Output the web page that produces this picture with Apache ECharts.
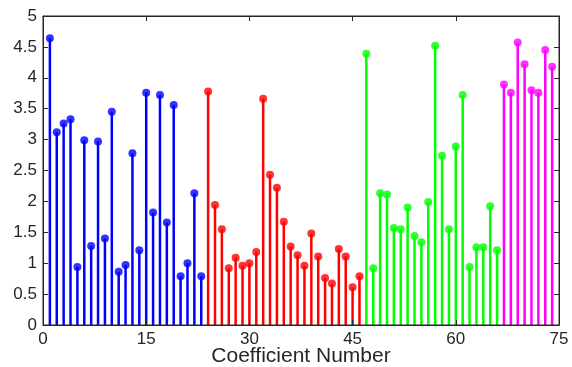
<!DOCTYPE html>
<html>
<head>
<meta charset="utf-8">
<script src="https://cdn.jsdelivr.net/npm/echarts@6/dist/echarts.min.js"></script>
<style>
html,body{margin:0;padding:0;background:#fff;}
#chart{width:572px;height:367px;}
</style>
</head>
<body>
<div id="chart"></div>
<script>
// Data (coefficient index -> magnitude), grouped by colour
const blueX = [1,2,3,4,5,6,7,8,9,10,11,12,13,14,15,16,17,18,19,20,21,22,23];
const blueY = [4.64,3.12,3.26,3.33,0.94,2.99,1.28,2.97,1.40,3.45,0.86,0.97,2.78,1.21,3.76,1.82,3.72,1.66,3.56,0.79,1.00,2.13,0.79];
const redX = [24,25,26,27,28,29,30,31,32,33,34,35,36,37,38,39,40,41,42,43,44,45,46];
const redY = [3.78,1.94,1.55,0.92,1.09,0.96,1.00,1.18,3.66,2.43,2.22,1.67,1.27,1.13,0.96,1.48,1.11,0.76,0.67,1.23,1.11,0.61,0.79];
const greenX = [47,48,49,50,51,52,53,54,55,56,57,58,59,60,61,62,63,64,65,66];
const greenY = [4.39,0.92,2.13,2.11,1.57,1.55,1.90,1.44,1.34,1.99,4.52,2.74,1.55,2.89,3.72,0.94,1.26,1.26,1.92,1.21];
const magentaX = [67,68,69,70,71,72,73,74];
const magentaY = [3.89,3.76,4.57,4.22,3.80,3.76,4.45,4.18];
const xTicks = [0,15,30,45,60,75];
const yTicks = [0,0.5,1,1.5,2,2.5,3,3.5,4,4.5,5];
const xLabel = 'Coefficient Number';

const groups = [
  {x: blueX, y: blueY, color: '#0000ff'},
  {x: redX, y: redY, color: '#ff0000'},
  {x: greenX, y: greenY, color: '#00ff00'},
  {x: magentaX, y: magentaY, color: '#ff00ff'}
];

const axisColor = '#262626';
const font = 'Liberation Sans, Arial, Helvetica, sans-serif';

const series = [];
groups.forEach(g => {
  const data = g.x.map((xv, i) => [xv, g.y[i]]);
  series.push({
    type: 'custom',
    data: data,
    silent: true,
    z: 2,
    renderItem: function (params, api) {
      const p0 = api.coord([api.value(0), 0]);
      const p1 = api.coord([api.value(0), api.value(1)]);
      return {
        type: 'line',
        shape: {x1: p0[0], y1: p0[1], x2: p1[0], y2: p1[1]},
        style: {stroke: g.color, lineWidth: 2.5}
      };
    }
  });
  series.push({
    type: 'scatter',
    data: data,
    symbol: 'circle',
    symbolSize: 8,
    itemStyle: {color: g.color},
    z: 3,
    silent: true
  });
});
series.push({type: 'scatter', xAxisIndex: 1, yAxisIndex: 1, data: [], silent: true});

const axisLineStyle = {color: axisColor, width: 1, opacity: 1};

const chart = echarts.init(document.getElementById('chart'), null, {renderer: 'canvas'});
chart.setOption({
  animation: false,
  backgroundColor: '#ffffff',
  grid: {left: 43, right: 13, top: 16, bottom: 42, containLabel: false, outerBoundsMode: 'none',
         show: true, borderColor: axisColor, borderWidth: 1, backgroundColor: 'transparent', z: 5},
  xAxis: [{
    type: 'value', min: xTicks[0], max: xTicks[xTicks.length - 1], interval: 15,
    position: 'bottom', z: 5,
    name: xLabel, nameLocation: 'middle', nameGap: 21, nameMoveOverlap: false,
    nameTextStyle: {color: axisColor, fontSize: 21, fontFamily: font, verticalAlign: 'top'},
    axisLine: {show: true, onZero: false, lineStyle: axisLineStyle},
    axisTick: {show: true, inside: true, length: 5, lineStyle: axisLineStyle},
    axisLabel: {color: axisColor, fontSize: 17, fontFamily: font, margin: 6},
    splitLine: {show: false}
  }, {
    type: 'value', min: xTicks[0], max: xTicks[xTicks.length - 1], interval: 15,
    position: 'top', z: 5,
    axisLine: {show: true, onZero: false, lineStyle: axisLineStyle},
    axisTick: {show: true, inside: true, length: 5, lineStyle: axisLineStyle},
    axisLabel: {show: false},
    splitLine: {show: false}
  }],
  yAxis: [{
    type: 'value', min: yTicks[0], max: yTicks[yTicks.length - 1], interval: 0.5,
    position: 'left', z: 5,
    axisLine: {show: true, onZero: false, lineStyle: axisLineStyle},
    axisTick: {show: true, inside: true, length: 5, lineStyle: axisLineStyle},
    axisLabel: {color: axisColor, fontSize: 17, fontFamily: font, margin: 6},
    splitLine: {show: false}
  }, {
    type: 'value', min: yTicks[0], max: yTicks[yTicks.length - 1], interval: 0.5,
    position: 'right', z: 5,
    axisLine: {show: true, onZero: false, lineStyle: axisLineStyle},
    axisTick: {show: true, inside: true, length: 5, lineStyle: axisLineStyle},
    axisLabel: {show: false},
    splitLine: {show: false}
  }],
  series: series
});
</script>
</body>
</html>
